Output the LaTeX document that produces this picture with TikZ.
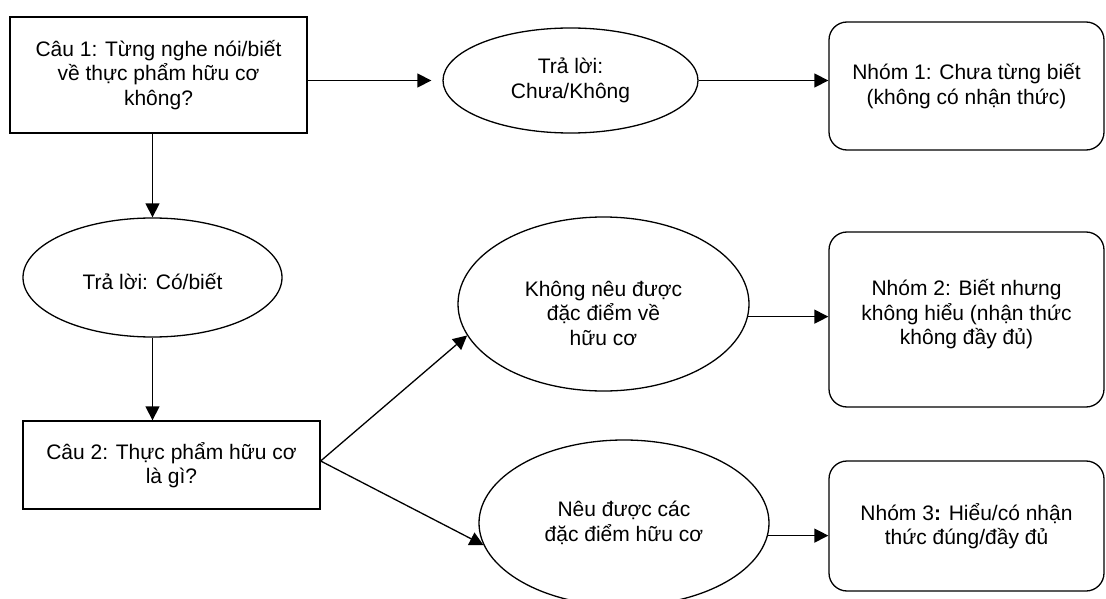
\documentclass[tikz,border=0pt]{standalone}
\usepackage{fontspec}
\setmainfont{Liberation Sans}
\usetikzlibrary{shapes.geometric,arrows.meta,calc}
\begin{document}
\begin{tikzpicture}[x=1pt,y=-1pt,
  every node/.style={font=\fontsize{21}{24.5}\selectfont, align=center, inner sep=0pt, line width=1.3pt},
  qbox/.style={draw, rectangle},
  ans/.style={draw, ellipse},
  grp/.style={draw, rectangle, rounded corners=18pt},
  conn/.style={line width=1.3pt, -{Triangle[length=14pt,width=14pt]}}]
\useasboundingbox (0,0) rectangle (1106,599);
% question boxes
\node[qbox, minimum width=297pt, minimum height=116pt] (b1) at (158.5,75)
  {Câu 1: Từng nghe nói/biết\\về thực phẩm hữu cơ\\không?};
\node[qbox, minimum width=297pt, minimum height=88pt] (b2) at (171.5,465)
  {Câu 2: Thực phẩm hữu cơ\\là gì?};
% answer ellipses
\node[ans, minimum width=255pt, minimum height=105pt] (e1) at (570.5,80.5)
  {Trả lời:\\Chưa/Không};
\node[ans, minimum width=259pt, minimum height=119pt] (e2) at (152.5,277.5) {};
\node (e2t) at ($(e2.center)+(0,4)$) {Trả lời: Có/biết};
\node[ans, minimum width=291pt, minimum height=174pt] (e3) at (603.5,304) {};
\node (e3t) at ($(e3.center)+(0,9)$) {Không nêu được\\đặc điểm về\\hữu cơ};
\node[ans, minimum width=290pt, minimum height=166pt] (e4) at (624,523)
  {Nêu được các\\đặc điểm hữu cơ};
% group boxes
\node[grp, minimum width=275pt, minimum height=128pt] (r1) at (966.5,86)
  {Nhóm 1: Chưa từng biết\\(không có nhận thức)};
\node[grp, minimum width=275pt, minimum height=175pt] (r2) at (966.5,319.5) {};
\node (r2t) at ($(r2.center)+(0,-5)$) {Nhóm 2: Biết nhưng\\không hiểu (nhận thức\\không đầy đủ)};
\node[grp, minimum width=275pt, minimum height=130pt] (r3) at (966.5,526)
  {Nhóm 3{\bfseries :} Hiểu/có nhận\\thức đúng/đầy đủ};
% connectors
\draw[conn, shorten >=11pt] (e1.west -| b1.east) -- (e1.west);
\draw[conn] (e1.east) -- (e1.east -| r1.west);
\draw[conn] (e2.north |- b1.south) -- (e2.north);
\draw[conn] (e2.south) -- (e2.south |- b2.north);
\coordinate (fork) at ($(b2.east)+(0,-4)$);
\draw[conn] (fork) -- (e3.193);
\draw[conn] (fork) -- (e4.189);
\draw[conn] (e3.355) -- (e3.355 -| r2.west);
\draw[conn] (e4.355) -- (e4.355 -| r3.west);
\end{tikzpicture}
\end{document}
